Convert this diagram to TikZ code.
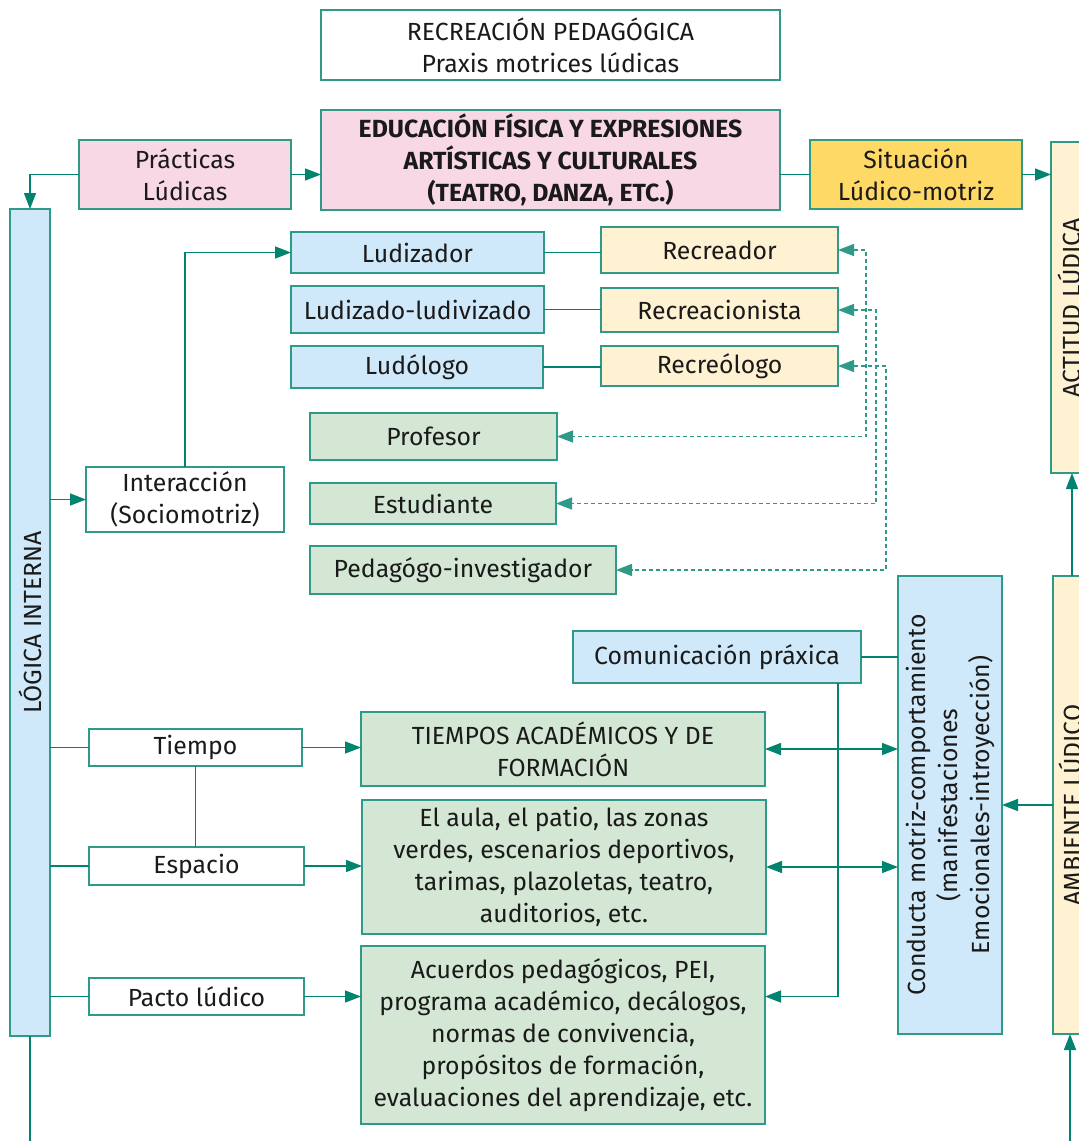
\documentclass[tikz,border=0pt]{standalone}
\usepackage{fontspec}
\setmainfont{Fira Sans}
\usetikzlibrary{arrows.meta,calc}
\definecolor{edgec}{HTML}{2E9A87}
\definecolor{linkc}{HTML}{00846F}
\definecolor{txtc}{HTML}{1A1A1A}
\definecolor{fpink}{HTML}{F9D8E6}
\definecolor{fblue}{HTML}{D0E9FA}
\definecolor{fgreen}{HTML}{D3E7D4}
\definecolor{fcream}{HTML}{FFF2D2}
\definecolor{fyellow}{HTML}{FFD966}
\tikzset{
  bx/.style={draw=edgec, line width=1.4pt, inner sep=0pt, outer sep=0pt,
    anchor=north west, align=center, text=txtc,
    font=\fontsize{24.8}{32}\selectfont},
  rot/.style={rotate=90, align=center, text=txtc, inner sep=0pt,
    font=\fontsize{24.8}{32}\selectfont},
  lnk/.style={draw=linkc, line width=1.5pt},
  arr/.style={lnk, -{Triangle[length=16pt,width=12pt]}},
  dbl/.style={lnk, {Triangle[length=16pt,width=12pt]}-{Triangle[length=16pt,width=12pt]}},
  darr/.style={draw=edgec, line width=1.3pt, dash pattern=on 4pt off 3pt,
    {Triangle[length=16pt,width=12pt]}-{Triangle[length=16pt,width=12pt]}},
}
\begin{document}
\begin{tikzpicture}[x=1pt,y=-1pt]
\clip (0,0) rectangle (1079,1141);
\fill[white] (0,0) rectangle (1079,1141);

% top row
\node[bx, fill=white, minimum width=459pt, minimum height=70pt] (title) at (321,10)
  {RECREACIÓN PEDAGÓGICA\\Praxis motrices lúdicas};
\node[bx, fill=fpink, minimum width=459pt, minimum height=100pt, font=\fontsize{24.8}{32}\selectfont\bfseries] (edu) at (321,110)
  {EDUCACIÓN FÍSICA Y EXPRESIONES\\ARTÍSTICAS Y CULTURALES\\(TEATRO, DANZA, ETC.)};
\node[bx, fill=fpink, minimum width=212pt, minimum height=69pt] (prac) at (79,140)
  {Prácticas\\Lúdicas};
\node[bx, fill=fyellow, minimum width=212pt, minimum height=69pt] (sit) at (810,140)
  {Situación\\Lúdico-motriz};

% side columns
\node[bx, fill=fcream, minimum width=40pt, minimum height=331pt] (act) at (1051,142) {};
\node[rot] at ([xshift=-2pt]act.center) {ACTITUD LÚDICA};
\node[bx, fill=fcream, minimum width=38pt, minimum height=458pt] (amb) at (1053,576) {};
\node[rot] at ([xshift=-2pt]amb.center) {AMBIENTE LÚDICO};
\node[bx, fill=fblue, minimum width=104pt, minimum height=458pt] (cond) at (898,576) {};
\node[rot] at (cond.center) {Conducta motriz-comportamiento\\(manifestaciones\\Emocionales-introyección)};
\node[bx, fill=fblue, minimum width=40pt, minimum height=827pt] (logica) at (10,209) {};
\node[rot] at (logica.center) {LÓGICA INTERNA};

% roles
\node[bx, fill=fblue, minimum width=253pt, minimum height=41pt] (ludz) at (291,232) {Ludizador};
\node[bx, fill=fblue, minimum width=253pt, minimum height=47pt] (ludv) at (291,286) {Ludizado-ludivizado};
\node[bx, fill=fblue, minimum width=252pt, minimum height=42pt] (ludo) at (291,346) {Ludólogo};
\node[bx, fill=fcream, minimum width=237pt, minimum height=46pt] (recd) at (601,227) {Recreador};
\node[bx, fill=fcream, minimum width=237pt, minimum height=44pt] (recn) at (601,288) {Recreacionista};
\node[bx, fill=fcream, minimum width=237pt, minimum height=40pt] (recl) at (601,346) {Recreólogo};
\node[bx, fill=fgreen, minimum width=247pt, minimum height=47pt] (prof) at (310,413) {Profesor};
\node[bx, fill=fgreen, minimum width=246pt, minimum height=41pt] (est) at (310,483) {Estudiante};
\node[bx, fill=fgreen, minimum width=306pt, minimum height=48pt] (ped) at (310,546) {Pedagógo-investigador};
\node[bx, fill=white, minimum width=198pt, minimum height=65pt] (inter) at (86,467)
  {Interacción\\(Sociomotriz)};

% lower block
\node[bx, fill=fblue, minimum width=288pt, minimum height=52pt] (com) at (573,631) {Comunicación práxica};
\node[bx, fill=fgreen, minimum width=404pt, minimum height=74pt] (tiempos) at (361,712)
  {TIEMPOS ACADÉMICOS Y DE\\FORMACIÓN};
\node[bx, fill=fgreen, minimum width=404pt, minimum height=134pt] (aula) at (362,800)
  {El aula, el patio, las zonas\\verdes, escenarios deportivos,\\tarimas, plazoletas, teatro,\\auditorios, etc.};
\node[bx, fill=fgreen, minimum width=404pt, minimum height=178pt] (acu) at (361,946)
  {Acuerdos pedagógicos, PEI,\\programa académico, decálogos,\\normas de convivencia,\\propósitos de formación,\\evaluaciones del aprendizaje, etc.};
\node[bx, fill=white, minimum width=213pt, minimum height=37pt] (tiempo) at (89,729) {Tiempo};
\node[bx, fill=white, minimum width=215pt, minimum height=38pt] (espacio) at (89,847) {Espacio};
\node[bx, fill=white, minimum width=215pt, minimum height=37pt] (pacto) at (89,978) {Pacto lúdico};

\coordinate (logout) at (27,1141);
\coordinate (ambin) at (1070,1141);

% connectors along the top
\draw[arr] (prac.west) -| (logica.north);
\draw[arr] (prac.east) -- (prac.east -| edu.west);
\draw[lnk] (edu.east |- sit.west) -- (sit.west);
\draw[arr] (sit.east) -- (sit.east -| act.west);

% interaction branch
\draw[arr] (logica.east |- inter.west) -- (inter.west);
\draw[arr] (inter.north) |- (ludz.west);
\draw[lnk] (ludz.east) -- (ludz.east -| recd.west);
\draw[lnk] (ludv.east) -- (ludv.east -| recn.west);
\draw[lnk] (ludo.east) -- (ludo.east -| recl.west);
\draw[darr] (recd.east) -- ++(28,0) |- (prof.east);
\draw[darr] (recn.east) -- ++(38,0) |- (est.east);
\draw[darr] (recl.east) -- ++(48,0) |- (ped.east);

% time, space and pact
\draw[lnk] (logica.east |- tiempo.west) -- (tiempo.west);
\draw[lnk] (logica.east |- espacio.west) -- (espacio.west);
\draw[lnk] (logica.east |- pacto.west) -- (pacto.west);
\draw[lnk] (tiempo.south) -- (tiempo.south |- espacio.north);
\draw[arr] (tiempo.east) -- (tiempo.east -| tiempos.west);
\draw[arr] (espacio.east) -- (espacio.east -| aula.west);
\draw[arr] (pacto.east) -- (pacto.east -| acu.west);
\draw[dbl] (tiempos.east) -- (tiempos.east -| cond.west);
\draw[dbl] (aula.east) -- (aula.east -| cond.west);
\draw[lnk] (com.east) -- (com.east -| cond.west);
\draw[arr] ([xshift=-23pt]com.south east) |- (pacto.east -| acu.east);

% right side
\draw[arr] (amb.west) -- (amb.west -| cond.east);
\draw[arr] (amb.north) -- (amb.north |- act.south);
\draw[arr] (ambin) -- (ambin |- amb.south);
\draw[lnk] (logica.south) -- (logica.south |- logout);
\end{tikzpicture}
\end{document}
